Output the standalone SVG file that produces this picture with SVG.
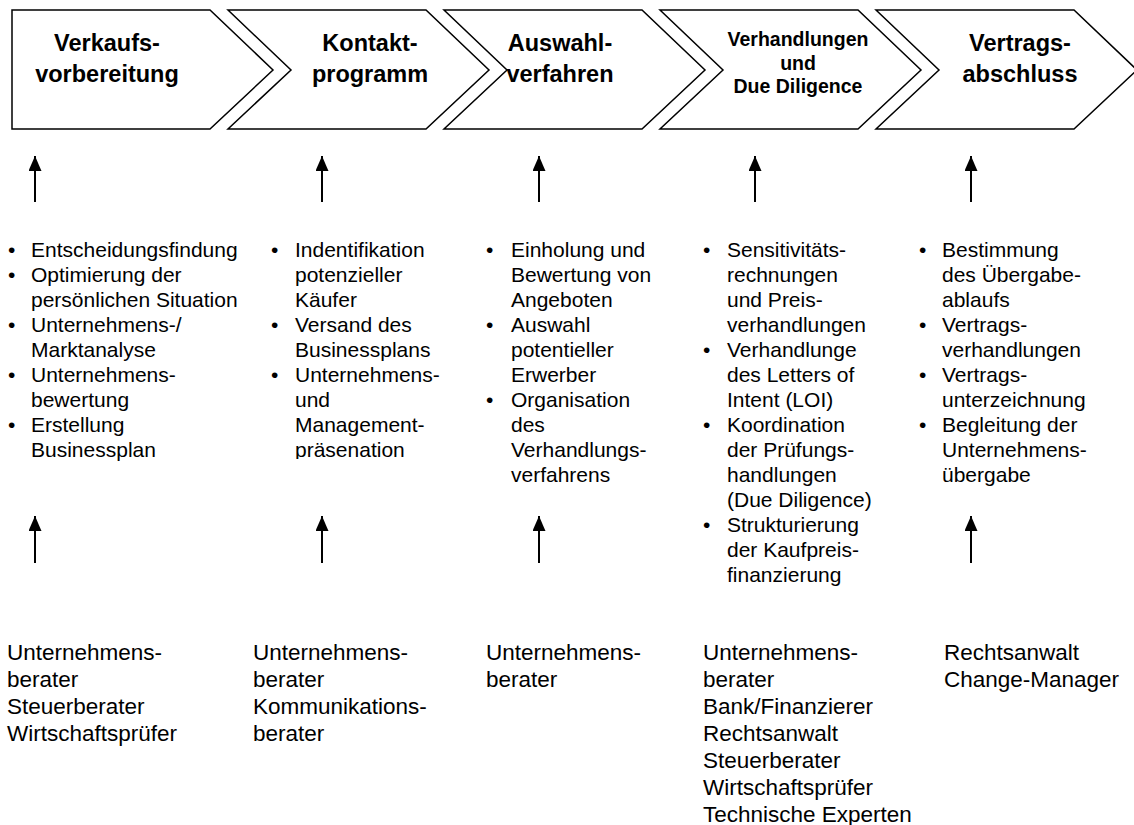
<svg xmlns="http://www.w3.org/2000/svg" width="1134" height="825" viewBox="0 0 1134 825">
<style>
.shape{fill:#fff;stroke:#000;stroke-width:1.5;stroke-linejoin:miter}
.hd{font-family:"Liberation Sans",Arial,sans-serif;font-weight:bold;font-size:23.5px;text-anchor:middle;fill:#000}
.hd4{font-family:"Liberation Sans",Arial,sans-serif;font-weight:bold;font-size:19.5px;text-anchor:middle;fill:#000}
.bl{font-family:"Liberation Sans",Arial,sans-serif;font-size:21px;fill:#000}
.bt{font-family:"Liberation Sans",Arial,sans-serif;font-size:22.5px;fill:#000}
.arr{stroke:#000;stroke-width:2;fill:none}
</style>
<defs>
<marker id="ah" viewBox="0 0 15 13" refX="15" refY="6.5" markerWidth="15" markerHeight="13" markerUnits="userSpaceOnUse" orient="auto">
<path d="M0,0 L15,6.5 L0,13 Z" fill="#000"/>
</marker>
<clipPath id="c2"><rect x="250" y="230" width="200" height="229"/></clipPath>
</defs>
<rect width="1134" height="825" fill="#fff"/>

<g id="step1">
<path class="shape" d="M12,10 L210,10 L273,70 L210,129 L12,129 Z"/>
<text class="hd" x="107" y="51">Verkaufs-</text>
<text class="hd" x="107" y="82">vorbereitung</text>
</g>
<g id="step2">
<path class="shape" d="M228,10 L426,10 L489,70 L426,129 L228,129 L291,70 Z"/>
<text class="hd" x="370" y="51">Kontakt-</text>
<text class="hd" x="370" y="82">programm</text>
</g>
<g id="step3">
<path class="shape" d="M444,10 L642,10 L705,70 L642,129 L444,129 L507,70 Z"/>
<text class="hd" x="560" y="51">Auswahl-</text>
<text class="hd" x="560" y="82">verfahren</text>
</g>
<g id="step4">
<path class="shape" d="M660,10 L858,10 L921,70 L858,129 L660,129 L723,70 Z"/>
<text class="hd4" x="798" y="46">Verhandlungen</text>
<text class="hd4" x="798" y="70">und</text>
<text class="hd4" x="798" y="93">Due Diligence</text>
</g>
<g id="step5">
<path class="shape" d="M876,10 L1074,10 L1137,70 L1074,129 L876,129 L939,70 Z"/>
<text class="hd" x="1020" y="51">Vertrags-</text>
<text class="hd" x="1020" y="82">abschluss</text>
</g>

<g id="connectors">
<line class="arr" x1="35" y1="202" x2="35" y2="156" marker-end="url(#ah)"/>
<line class="arr" x1="322" y1="202" x2="322" y2="156" marker-end="url(#ah)"/>
<line class="arr" x1="539" y1="202" x2="539" y2="156" marker-end="url(#ah)"/>
<line class="arr" x1="755" y1="202" x2="755" y2="156" marker-end="url(#ah)"/>
<line class="arr" x1="971" y1="202" x2="971" y2="156" marker-end="url(#ah)"/>
<line class="arr" x1="35" y1="563" x2="35" y2="516" marker-end="url(#ah)"/>
<line class="arr" x1="322" y1="563" x2="322" y2="516" marker-end="url(#ah)"/>
<line class="arr" x1="539" y1="563" x2="539" y2="516" marker-end="url(#ah)"/>
<line class="arr" x1="971" y1="563" x2="971" y2="516" marker-end="url(#ah)"/>
</g>

<g id="tasks1" class="bl">
<text x="8" y="256.7">•</text><text x="31" y="256.7">Entscheidungsfindung</text>
<text x="8" y="281.7">•</text><text x="31" y="281.7">Optimierung der</text>
<text x="31" y="306.7">persönlichen Situation</text>
<text x="8" y="331.7">•</text><text x="31" y="331.7">Unternehmens-/</text>
<text x="31" y="356.7">Marktanalyse</text>
<text x="8" y="381.7">•</text><text x="31" y="381.7">Unternehmens-</text>
<text x="31" y="406.7">bewertung</text>
<text x="8" y="431.7">•</text><text x="31" y="431.7">Erstellung</text>
<text x="31" y="456.7">Businessplan</text>
</g>
<g id="tasks2" class="bl" clip-path="url(#c2)">
<text x="271" y="256.7">•</text><text x="295" y="256.7">Indentifikation</text>
<text x="295" y="281.7">potenzieller</text>
<text x="295" y="306.7">Käufer</text>
<text x="271" y="331.7">•</text><text x="295" y="331.7">Versand des</text>
<text x="295" y="356.7">Businessplans</text>
<text x="271" y="381.7">•</text><text x="295" y="381.7">Unternehmens-</text>
<text x="295" y="406.7">und</text>
<text x="295" y="431.7">Management-</text>
<text x="295" y="456.7">präsenation</text>
</g>
<g id="tasks3" class="bl">
<text x="486" y="256.7">•</text><text x="511" y="256.7">Einholung und</text>
<text x="511" y="281.7">Bewertung von</text>
<text x="511" y="306.7">Angeboten</text>
<text x="486" y="331.7">•</text><text x="511" y="331.7">Auswahl</text>
<text x="511" y="356.7">potentieller</text>
<text x="511" y="381.7">Erwerber</text>
<text x="486" y="406.7">•</text><text x="511" y="406.7">Organisation</text>
<text x="511" y="431.7">des</text>
<text x="511" y="456.7">Verhandlungs-</text>
<text x="511" y="481.7">verfahrens</text>
</g>
<g id="tasks4" class="bl">
<text x="703" y="256.7">•</text><text x="727" y="256.7">Sensitivitäts-</text>
<text x="727" y="281.7">rechnungen</text>
<text x="727" y="306.7">und Preis-</text>
<text x="727" y="331.7">verhandlungen</text>
<text x="703" y="356.7">•</text><text x="727" y="356.7">Verhandlunge</text>
<text x="727" y="381.7">des Letters of</text>
<text x="727" y="406.7">Intent (LOI)</text>
<text x="703" y="431.7">•</text><text x="727" y="431.7">Koordination</text>
<text x="727" y="456.7">der Prüfungs-</text>
<text x="727" y="481.7">handlungen</text>
<text x="727" y="506.7">(Due Diligence)</text>
<text x="703" y="531.7">•</text><text x="727" y="531.7">Strukturierung</text>
<text x="727" y="556.7">der Kaufpreis-</text>
<text x="727" y="581.7">finanzierung</text>
</g>
<g id="tasks5" class="bl">
<text x="919" y="256.7">•</text><text x="942" y="256.7">Bestimmung</text>
<text x="942" y="281.7">des Übergabe-</text>
<text x="942" y="306.7">ablaufs</text>
<text x="919" y="331.7">•</text><text x="942" y="331.7">Vertrags-</text>
<text x="942" y="356.7">verhandlungen</text>
<text x="919" y="381.7">•</text><text x="942" y="381.7">Vertrags-</text>
<text x="942" y="406.7">unterzeichnung</text>
<text x="919" y="431.7">•</text><text x="942" y="431.7">Begleitung der</text>
<text x="942" y="456.7">Unternehmens-</text>
<text x="942" y="481.7">übergabe</text>
</g>

<g id="actors1" class="bt">
<text x="7" y="660">Unternehmens-</text>
<text x="7" y="687">berater</text>
<text x="7" y="714">Steuerberater</text>
<text x="7" y="741">Wirtschaftsprüfer</text>
</g>
<g id="actors2" class="bt">
<text x="253" y="660">Unternehmens-</text>
<text x="253" y="687">berater</text>
<text x="253" y="714">Kommunikations-</text>
<text x="253" y="741">berater</text>
</g>
<g id="actors3" class="bt">
<text x="486" y="660">Unternehmens-</text>
<text x="486" y="687">berater</text>
</g>
<g id="actors4" class="bt">
<text x="703" y="660">Unternehmens-</text>
<text x="703" y="687">berater</text>
<text x="703" y="714">Bank/Finanzierer</text>
<text x="703" y="741">Rechtsanwalt</text>
<text x="703" y="768">Steuerberater</text>
<text x="703" y="795">Wirtschaftsprüfer</text>
<text x="703" y="822">Technische Experten</text>
</g>
<g id="actors5" class="bt">
<text x="944" y="660">Rechtsanwalt</text>
<text x="944" y="687">Change-Manager</text>
</g>
</svg>
